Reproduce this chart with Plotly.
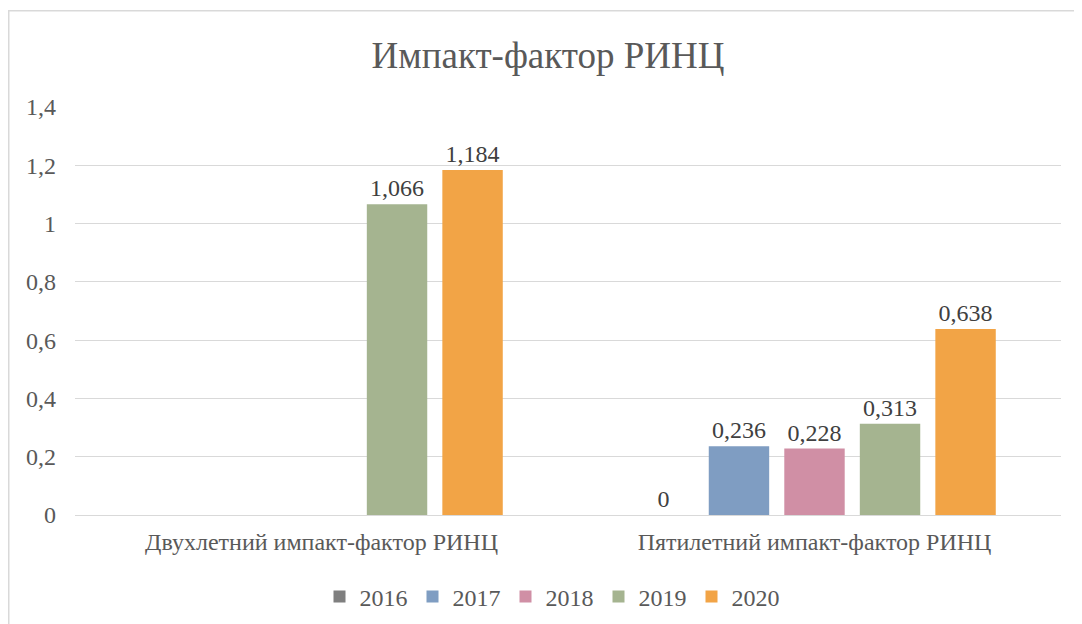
import plotly.graph_objects as go

categories = ["Двухлетний импакт-фактор РИНЦ", "Пятилетний импакт-фактор РИНЦ"]
years = ["2016", "2017", "2018", "2019", "2020"]
values = {
    "2016": [None, 0],
    "2017": [None, 0.236],
    "2018": [None, 0.228],
    "2019": [1.066, 0.313],
    "2020": [1.184, 0.638],
}
colors = {
    "2016": "#7f7f7f",
    "2017": "#7f9dc2",
    "2018": "#d08fa5",
    "2019": "#a5b490",
    "2020": "#f2a446",
}
tick_vals = [0, 0.2, 0.4, 0.6, 0.8, 1.0, 1.2, 1.4]
tick_text = ["0", "0,2", "0,4", "0,6", "0,8", "1", "1,2", "1,4"]

FONT = "Liberation Serif"

# page is offset by 8px (body margin); compensate
OFF = 8
W, H = 1082, 624
PL, PR, PT, PB = 75 - OFF, 1061 - OFF, 107 - OFF, 515 - OFF
pw, ph = PR - PL, PB - PT


def fmt(v):
    if v is None:
        return ""
    return ("%g" % v).replace(".", ",")


def fnt(size, color="#595959"):
    return dict(family=FONT, size=size, color=color)


fig = go.Figure()
for y in years:
    vals = values[y]
    fig.add_trace(go.Bar(
        name=y,
        x=categories,
        y=vals,
        marker=dict(color=colors[y], line=dict(width=0)),
        text=[fmt(v) for v in vals],
        textposition="outside",
        constraintext="none",
        textfont=fnt(24, "#404040"),
        outsidetextfont=fnt(24, "#404040"),
        cliponaxis=False,
    ))

fig.update_layout(
    template="none",
    width=W,
    height=H,
    barmode="group",
    bargap=0.234,
    bargroupgap=0.2,
    paper_bgcolor="white",
    plot_bgcolor="white",
    margin=dict(l=PL, r=W - PR, t=PT, b=H - PB, autoexpand=False),
    title=dict(
        text="Импакт-фактор РИНЦ",
        font=fnt(37),
        x=(548 - OFF - PL) / pw, xref="paper", xanchor="center",
        y=1 - (55 - OFF) / H, yref="container", yanchor="middle",
    ),
    xaxis=dict(
        showgrid=False, showline=False, zeroline=False, automargin=False,
        ticks="", ticklabelstandoff=10,
        tickfont=fnt(24),
    ),
    yaxis=dict(
        range=[0, 1.4], automargin=False,
        tickvals=tick_vals, ticktext=tick_text,
        showgrid=True, gridcolor="#d9d9d9", gridwidth=1,
        zeroline=True, zerolinecolor="#d9d9d9", zerolinewidth=1,
        showline=False, ticks="", ticklabelstandoff=18,
        tickfont=fnt(24),
    ),
    legend=dict(
        orientation="h", x=(552 - OFF - PL) / pw, xanchor="center",
        y=(PB - (597 - OFF)) / ph, yanchor="middle",
        font=fnt(24),
        traceorder="normal", itemwidth=30,
    ),
    shapes=[dict(
        type="rect", xref="paper", yref="paper",
        x0=(0.75 - PL) / pw, x1=1.1,
        y0=-0.4, y1=(PB - 2.75) / ph,
        line=dict(color="#d9d9d9", width=1.5),
        fillcolor="rgba(0,0,0,0)", layer="below",
    )],
)

fig.write_html("out.html")
